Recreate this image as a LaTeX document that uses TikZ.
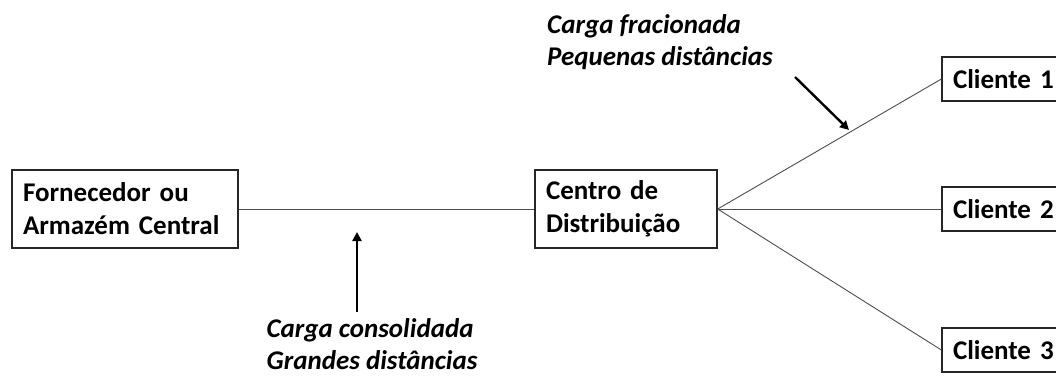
\documentclass[tikz,border=0pt]{standalone}
\usepackage{fontspec}
\setmainfont{Carlito}
\usetikzlibrary{arrows.meta}
\begin{document}
\begin{tikzpicture}[x=1pt,y=-1pt,
  box/.style={draw=black!85,line width=1.3pt,rectangle,inner xsep=11pt,inner ysep=0pt,
    align=left,font=\bfseries\fontsize{27}{33}\selectfont,anchor=center},
  link/.style={draw=black!70,line width=0.9pt},
  pointer/.style={draw=black,line width=2.4pt,-{Triangle[length=9pt,width=9pt]}},
  note/.style={align=left,font=\bfseries\itshape\fontsize{27}{32}\selectfont}]
\useasboundingbox (0,0) rectangle (1056,376);
\clip (0,0) rectangle (1056,376);
\node[box,minimum width=226pt,minimum height=78pt,text width=204pt] (f) at (125,209) {Fornecedor ou\\Armazém Central};
\node[box,minimum width=182pt,minimum height=78pt,text width=160pt] (d) at (626,209) {Centro de\\Distribuição};
\node[box,minimum width=130pt,minimum height=44pt,text width=108pt] (c1) at (1007,79) {Cliente 1};
\node[box,minimum width=130pt,minimum height=44pt,text width=108pt] (c2) at (1007,209) {Cliente 2};
\node[box,minimum width=130pt,minimum height=44pt,text width=108pt] (c3) at (1007,350) {Cliente 3};
\draw[link] (f.east) -- (d.west);
\draw[link] (d.east) -- (c1.west);
\draw[link] (d.east) -- (c2.west);
\draw[link] (d.east) -- (c3.west);
\node[note] (t1) at (660,42) {Carga fracionada\\Pequenas distâncias};
\node[note] (t2) at (372,344) {Carga consolidada\\Grandes distâncias};
\coordinate (a1s) at (795,77);
\coordinate (a1e) at (849,130);
\coordinate (a2s) at (357,312);
\coordinate (a2e) at (357,232);
\draw[pointer] (a1s) -- (a1e);
\draw[pointer] (a2s) -- (a2e);
\end{tikzpicture}
\end{document}
